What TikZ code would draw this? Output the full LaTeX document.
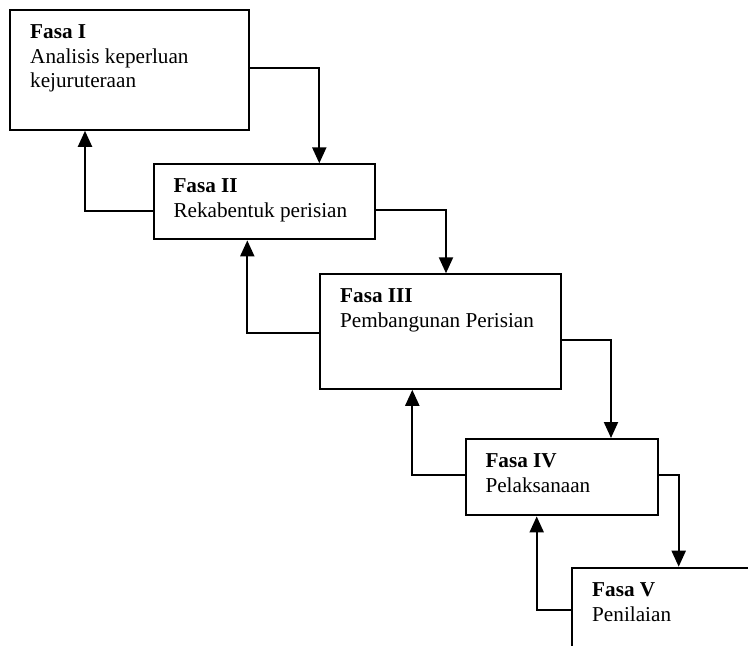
\documentclass[tikz,border=0pt]{standalone}
\usepackage{fontspec}
\setmainfont{Liberation Serif}
\usetikzlibrary{arrows.meta}
\begin{document}
\begin{tikzpicture}[x=1pt,y=-1pt,
  phasebox/.style={draw=black,line width=2.1pt,rectangle,anchor=north west,inner sep=0pt},
  conn/.style={line width=2.1pt,-{Triangle[width=14pt,length=16pt]}},
  txt/.style={anchor=base west,inner sep=0pt,font=\fontsize{21.2}{24.5}\selectfont},
  ttl/.style={txt,font=\fontsize{21.2}{24.5}\selectfont\bfseries}]
\clip (0,0) rectangle (748,646);
\node[phasebox,minimum width=238.7pt,minimum height=119.7pt] (b1) at (9,9) {};
\node[phasebox,minimum width=221.6pt,minimum height=75pt] (b2) at (152.7,163.3) {};
\node[phasebox,minimum width=241pt,minimum height=114.4pt] (b3) at (319.3,273.3) {};
\node[phasebox,minimum width=192pt,minimum height=76.3pt] (b4) at (464.7,438) {};
\node[phasebox,minimum width=220pt,minimum height=120pt] (b5) at (571.3,566.7) {};
% texts
\node[ttl] (t1) at ([xshift=21pt,yshift=-29.3pt]b1.north west) {Fasa I};
\node[txt] (d1a) at ([yshift=-25pt]t1.base west) {Analisis keperluan};
\node[txt] (d1b) at ([yshift=-24pt]d1a.base west) {kejuruteraan};
\node[ttl] (t2) at ([xshift=20.6pt,yshift=-29pt]b2.north west) {Fasa II};
\node[txt] (d2) at ([yshift=-25pt]t2.base west) {Rekabentuk perisian};
\node[ttl] (t3) at ([xshift=20.7pt,yshift=-29pt]b3.north west) {Fasa III};
\node[txt] (d3) at ([yshift=-25pt]t3.base west) {Pembangunan Perisian};
\node[ttl] (t4) at ([xshift=20.6pt,yshift=-29.7pt]b4.north west) {Fasa IV};
\node[txt] (d4) at ([yshift=-25pt]t4.base west) {Pelaksanaan};
\node[ttl] (t5) at ([xshift=20.7pt,yshift=-29.3pt]b5.north west) {Fasa V};
\node[txt] (d5) at ([yshift=-25pt]t5.base west) {Penilaian};
% connectors
\draw[conn] ([yshift=-58.7pt]b1.north east) -| ([xshift=166.6pt]b2.north west);
\draw[conn] ([yshift=-47.4pt]b2.north west) -| ([xshift=76pt]b1.south west);
\draw[conn] ([yshift=-46.7pt]b2.north east) -| ([xshift=126.7pt]b3.north west);
\draw[conn] ([yshift=-60pt]b3.north west) -| ([xshift=94.6pt]b2.south west);
\draw[conn] ([yshift=-66.7pt]b3.north east) -| ([xshift=146.3pt]b4.north west);
\draw[conn] ([yshift=-37pt]b4.north west) -| ([xshift=93pt]b3.south west);
\draw[conn] ([yshift=-37.3pt]b4.north east) -| ([xshift=107.4pt]b5.north west);
\draw[conn] ([yshift=-43.3pt]b5.north west) -| ([xshift=72pt]b4.south west);
\end{tikzpicture}
\end{document}
